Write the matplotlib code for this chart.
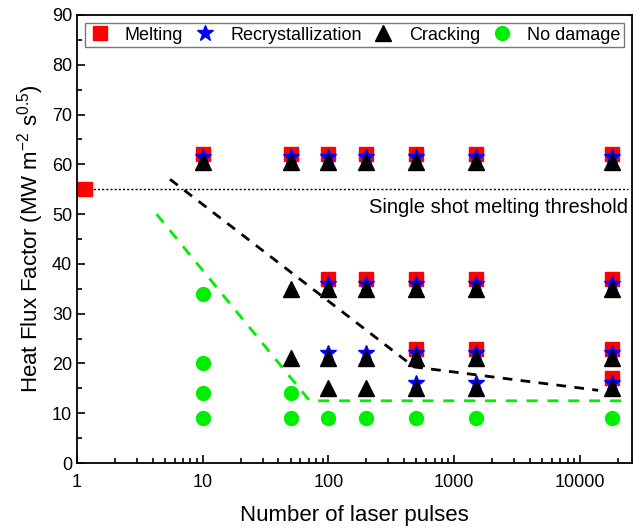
import matplotlib
matplotlib.use("Agg")
import matplotlib.pyplot as plt
from matplotlib.ticker import MultipleLocator, LogLocator, NullFormatter, FixedLocator, FixedFormatter

plt.rcParams["font.family"] = ["Liberation Sans", "DejaVu Sans"]
plt.rcParams["mathtext.fontset"] = "custom"
plt.rcParams["mathtext.rm"] = "Liberation Sans"
plt.rcParams["mathtext.it"] = "Liberation Sans"

# data
melt_x = [1.15, 10, 50, 100, 200, 500, 1500, 18000,
          100, 200, 500, 1500, 18000, 500, 1500, 18000, 18000]
melt_y = [55, 62, 62, 62, 62, 62, 62, 62,
          37, 37, 37, 37, 37, 23, 23, 23, 17]

recr_x = [10, 50, 100, 200, 500, 1500, 18000,
          100, 200, 500, 1500, 18000,
          100, 200, 500, 1500, 18000,
          500, 1500, 18000]
recr_y = [61.5] * 7 + [36] * 5 + [22] * 5 + [16] * 3

crack_x = [10, 50, 100, 200, 500, 1500, 18000,
           50, 100, 200, 500, 1500, 18000,
           50, 100, 200, 500, 1500, 18000,
           100, 200, 500, 1500, 18000]
crack_y = [60.5] * 7 + [35] * 6 + [21] * 6 + [15] * 5

nodmg_x = [10, 10, 10, 10, 50, 50, 100, 200, 500, 1500, 18000]
nodmg_y = [34, 20, 14, 9, 14, 9, 9, 9, 9, 9, 9]

crack_bound_x = [5.5, 480, 14000]
crack_bound_y = [57, 19.3, 14.6]
safe_bound_x = [4.3, 71, 22000]
safe_bound_y = [50, 12.5, 12.5]

threshold = 55

fig = plt.figure(figsize=(6.41, 5.30), dpi=100)
ax = fig.add_axes([0.12, 0.1264, 0.866, 0.8453])

ax.plot([1.15, 24000], [threshold, threshold], color="black", lw=1, ls=(0, (1.5, 1.5)))
ax.plot(crack_bound_x, crack_bound_y, color="black", lw=2, ls=(0, (3.5, 3)))
ax.plot(safe_bound_x, safe_bound_y, color="#00ee00", lw=2, ls=(0, (4, 3.5)))

ax.plot(melt_x, melt_y, ls="none", marker="s", ms=9.5, color="red", mec="red", label="Melting")
ax.plot(recr_x, recr_y, ls="none", marker="*", ms=12, color="blue", mec="blue", label="Recrystallization")
ax.plot(crack_x, crack_y, ls="none", marker="^", ms=11, color="black", label="Cracking")
ax.plot(nodmg_x, nodmg_y, ls="none", marker="o", ms=10, color="#00ee00", label="No damage")

ax.text(24000, 53.2, "Single shot melting threshold", ha="right", va="top", fontsize=14.5)

ax.set_xscale("log")
ax.set_xlim(1, 26000)
ax.set_ylim(0, 90)
ax.xaxis.set_major_locator(FixedLocator([1, 10, 100, 1000, 10000]))
ax.xaxis.set_major_formatter(FixedFormatter(["1", "10", "100", "1000", "10000"]))
ax.xaxis.set_minor_locator(LogLocator(base=10, subs=range(2, 10), numticks=20))
ax.xaxis.set_minor_formatter(NullFormatter())
ax.yaxis.set_major_locator(MultipleLocator(10))
ax.yaxis.set_minor_locator(MultipleLocator(5))

ax.tick_params(which="both", direction="in", top=False, right=False, labelsize=13, width=1.2)
ax.tick_params(which="major", length=6)
ax.tick_params(which="minor", length=3.5)
for s in ax.spines.values():
    s.set_linewidth(1.3)
ax.tick_params(axis="x", pad=8)

ax.set_xlabel("Number of laser pulses", fontsize=16, labelpad=10)
ax.set_ylabel("Heat Flux Factor (MW m$^{-2}$ s$^{0.5}$)", fontsize=16, labelpad=4)

leg = ax.legend(loc="upper center", ncol=4, fontsize=13, frameon=True, fancybox=False,
                edgecolor="#555555", borderpad=0.2, handletextpad=0.8, columnspacing=0.6,
                handlelength=1.2, borderaxespad=0.0, bbox_to_anchor=(0.5, 0.982))
leg.get_frame().set_linewidth(1)

fig.savefig("out.png", dpi=100)
